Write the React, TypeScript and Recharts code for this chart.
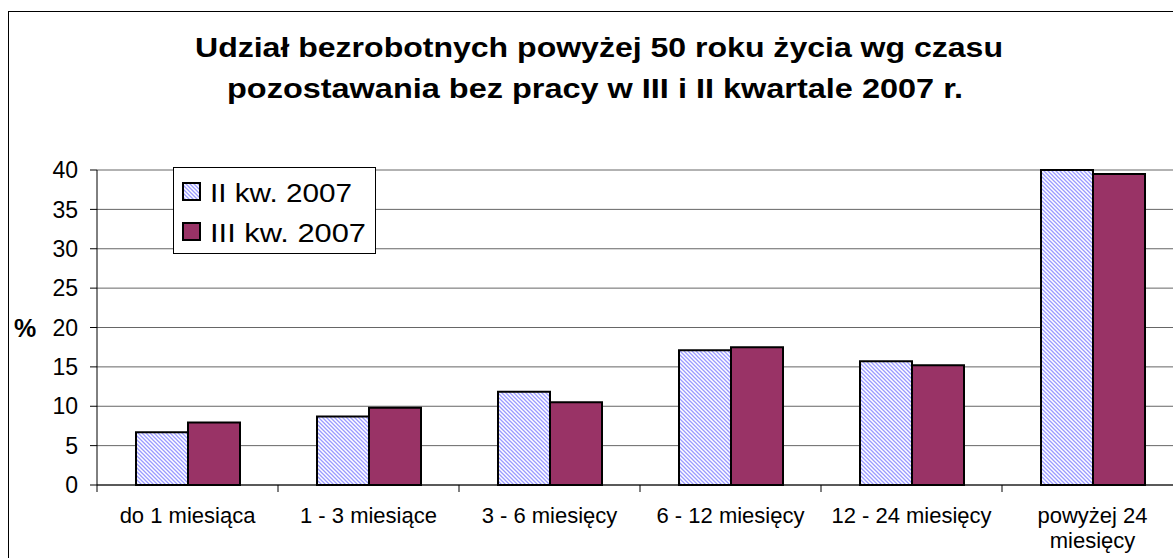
import React from "react";
import {
  BarChart,
  Bar,
  XAxis,
  YAxis,
  CartesianGrid,
  Legend,
} from "recharts";

const categories = [
  "do 1 miesiąca",
  "1 - 3 miesiące",
  "3 - 6 miesięcy",
  "6 - 12 miesięcy",
  "12 - 24 miesięcy",
  "powyżej 24\nmiesięcy",
];
const kw2 = [6.7, 8.7, 11.85, 17.1, 15.7, 40.0];
const kw3 = [7.95, 9.8, 10.5, 17.5, 15.2, 39.5];
const yTicks = [0, 5, 10, 15, 20, 25, 30, 35, 40];

const seriesNames = ["II kw. 2007", "III kw. 2007"];
const titleLines = [
  "Udział bezrobotnych powyżej 50 roku życia wg czasu",
  "pozostawania bez pracy w III i II kwartale 2007 r.",
];

const data = categories.map((name, i) => ({ name, kw2: kw2[i], kw3: kw3[i] }));

const FONT = '"Liberation Sans", Arial, sans-serif';
const W = 1180;
const H = 555;
const LEFT = 88;
const RIGHT = 6;
const HALF_BAND = (W - LEFT - RIGHT) / categories.length / 2;

const CategoryTick = (props: any) => {
  const { x, y, payload, index } = props;
  const lines = String(payload.value).split("\n");
  return (
    <g>
      <line x1={x - HALF_BAND} y1={y} x2={x - HALF_BAND} y2={y + 7} stroke="#000" />
      {index === categories.length - 1 && (
        <line x1={x + HALF_BAND} y1={y} x2={x + HALF_BAND} y2={y + 7} stroke="#000" />
      )}
      {lines.map((l, i) => (
        <text
          key={i}
          x={x}
          y={y + 38 + i * 25}
          textAnchor="middle"
          fontSize={22}
          fontFamily={FONT}
          fill="#000"
        >
          {l}
        </text>
      ))}
    </g>
  );
};

// legend drawn as a small svg box
const LegendBox = () => (
  <svg width={203} height={87} style={{ display: "block" }}>
    <rect x={0.5} y={0.5} width={202} height={86} fill="#fff" stroke="#000" />
    {seriesNames.map((n, i) => (
      <g key={n}>
        <rect
          x={10}
          y={16 + i * 40}
          width={17}
          height={17}
          fill={i === 0 ? "url(#hatch)" : "#993366"}
          stroke="#000"
          strokeWidth={2}
        />
        <text
          x={37}
          y={35 + i * 40}
          fontSize={26}
          fontFamily={FONT}
          fill="#000"
          textLength={i === 0 ? 142 : 156}
          lengthAdjust="spacingAndGlyphs"
        >
          {n}
        </text>
      </g>
    ))}
  </svg>
);

export default function App() {
  return (
    <div style={{ position: "fixed", left: 8, top: 8, width: 1165, height: 550, overflow: "hidden" }}>
      <div
        style={{
          position: "absolute",
          left: 0,
          top: 3,
          width: W,
          height: H,
          border: "1px solid #000",
          background: "#fff",
        }}
      >
        <BarChart
          width={W}
          height={H}
          data={data}
          margin={{ top: 158, right: RIGHT, bottom: 22, left: 0 }}
          barGap={0}
          barSize={52}
        >
          <defs>
            <pattern id="hatch" patternUnits="userSpaceOnUse" width={4} height={4}>
              <rect width={4} height={4} fill="#fff" />
              <path d="M-1,-1 L5,5 M-1,3 L1,5 M3,-1 L5,1" stroke="#9a9aff" strokeWidth={1.3} />
            </pattern>
          </defs>
          <CartesianGrid vertical={false} stroke="#666" />
          <XAxis
            dataKey="name"
            height={60}
            axisLine={{ stroke: "#000" }}
            tickLine={false}
            tickSize={0}
            tickMargin={0}
            tick={<CategoryTick />}
            interval={0}
          />
          <YAxis
            width={LEFT}
            domain={[0, 40]}
            ticks={yTicks}
            interval={0}
            axisLine={{ stroke: "#000" }}
            tickLine={{ stroke: "#000" }}
            tickSize={7}
            tickMargin={12}
            tick={{ fontSize: 23, fontFamily: FONT, fill: "#000" }}
          />
          <Legend
            layout="vertical"
            align="center"
            verticalAlign="middle"
            content={() => <LegendBox />}
            wrapperStyle={{ left: 164, top: 155, width: 203, height: 87 }}
          />
          <Bar dataKey="kw2" name={seriesNames[0]} fill="url(#hatch)" stroke="#000" strokeWidth={2} isAnimationActive={false} />
          <Bar dataKey="kw3" name={seriesNames[1]} fill="#993366" stroke="#000" strokeWidth={2} isAnimationActive={false} />
        </BarChart>
        <svg
          width={W}
          height={H}
          style={{ position: "absolute", left: 0, top: 0, pointerEvents: "none" }}
        >
          <text
            x={590}
            y={45}
            textAnchor="middle"
            fontSize={27}
            fontWeight="bold"
            fontFamily={FONT}
            textLength={808}
            lengthAdjust="spacingAndGlyphs"
          >
            {titleLines[0]}
          </text>
          <text
            x={586}
            y={86}
            textAnchor="middle"
            fontSize={27}
            fontWeight="bold"
            fontFamily={FONT}
            textLength={736}
            lengthAdjust="spacingAndGlyphs"
          >
            {titleLines[1]}
          </text>
          <text x={16} y={325} textAnchor="middle" fontSize={25} fontWeight="bold" fontFamily={FONT}>
            %
          </text>
        </svg>
      </div>
    </div>
  );
}
